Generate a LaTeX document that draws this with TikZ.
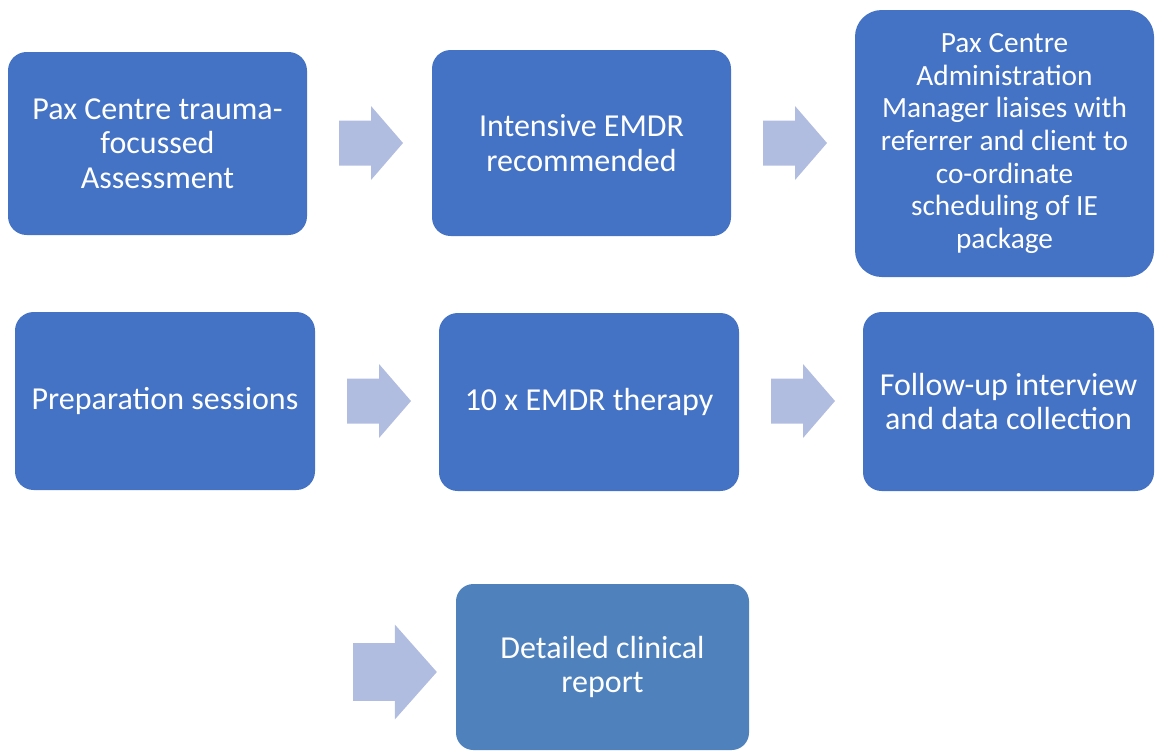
\documentclass[tikz,border=0pt]{standalone}
\usepackage{fontspec}
\setmainfont{Carlito}
\usetikzlibrary{positioning}

\definecolor{stepblue}{RGB}{68,114,196}
\definecolor{reportblue}{RGB}{79,129,189}
\definecolor{arrowfill}{RGB}{176,189,224}

\tikzset{
  stepbox/.style={fill=stepblue, rounded corners=14pt, text=white,
    align=center, inner sep=0pt, font=\fontsize{24}{26}\selectfont},
  pics/fatarrow/.style={code={
    \fill[arrowfill] (0,-22.5) -- (32,-22.5) -- (32,-37) -- (64,0)
      -- (32,37) -- (32,22.5) -- (0,22.5) -- cycle;
  }}
}

\begin{document}
\begin{tikzpicture}[x=0.75pt, y=-0.75pt]

    % page frame, in pixel units
    \useasboundingbox (0,0) rectangle (1155,751);
    \def\px{0.75pt}

    % first row
    \node[stepbox, minimum width=299*\px, minimum height=183*\px] (assess) at (157.5,143.5)
        {Pax Centre trauma-\\focussed\\Assessment};
    \node[stepbox, minimum width=299*\px, minimum height=186*\px] (recommend) at (581.5,143)
        {Intensive EMDR\\recommended};
    \node[stepbox, rounded corners=20pt, minimum width=299*\px, minimum height=267*\px,
        font=\fontsize{22}{24.4}\selectfont] (liaise) at (1004.5,143.5)
        {Pax Centre\\Administration\\Manager liaises with\\referrer and client to\\co-ordinate\\scheduling of IE\\package};

    % second row
    \node[stepbox, minimum width=300*\px, minimum height=178*\px] (prep) at (165,401)
        {Preparation sessions};
    \node[stepbox, minimum width=300*\px, minimum height=178*\px] (therapy) at (589,402)
        {10 x EMDR therapy};
    \node[stepbox, minimum width=291*\px, minimum height=179*\px] (followup) at (1008.5,401.5)
        {Follow-up interview\\and data collection};

    % last step
    \node[stepbox, fill=reportblue, rounded corners=13pt, minimum width=293*\px,
        minimum height=166*\px] (report) at (602.5,667)
        {Detailed clinical\\report};

    % block arrows between the steps
    \pic at (339,143) {fatarrow};
    \pic at (763,143) {fatarrow};
    \pic at (347,401) {fatarrow};
    \pic at (771,401) {fatarrow};
    \pic[xscale=1.31, yscale=1.28] at (353,672) {fatarrow};

\end{tikzpicture}
\end{document}
